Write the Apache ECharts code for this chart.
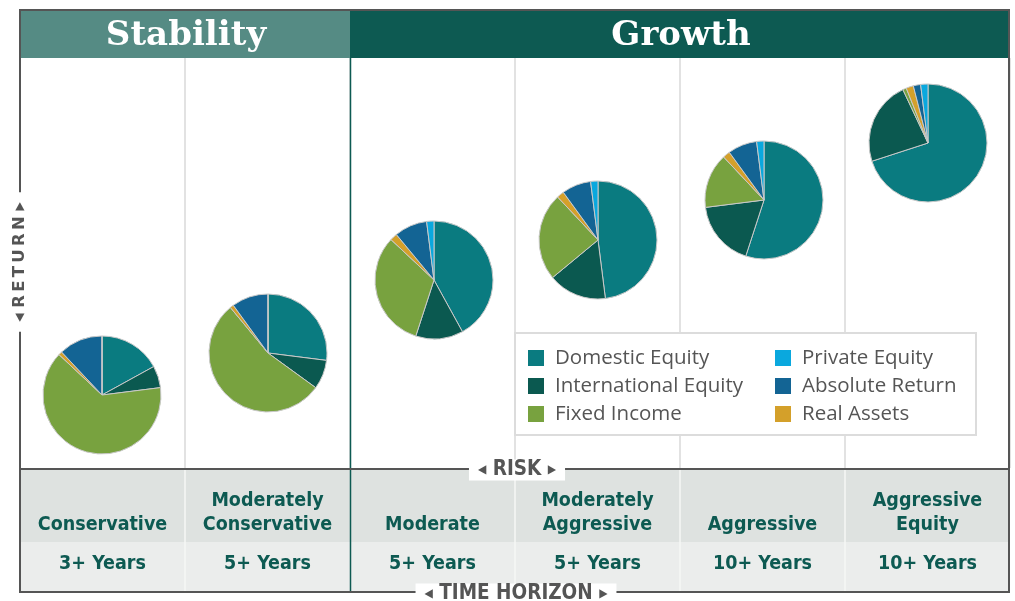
<!DOCTYPE html>
<html><head><meta charset="utf-8">
<script src="https://cdn.jsdelivr.net/npm/echarts@6/dist/echarts.min.js"></script>
<style>html,body{margin:0;padding:0;background:#fff}#c{width:1015px;height:601px}</style>
</head><body><div id="c"></div>
<script>
// ---- data ----
const profiles = ['Conservative','Moderately Conservative','Moderate','Moderately Aggressive','Aggressive','Aggressive Equity'];
const horizons = ['3+ Years','5+ Years','5+ Years','5+ Years','10+ Years','10+ Years'];
const groups = ['Stability','Growth'];
const assetClasses = ['Domestic Equity','International Equity','Fixed Income','Real Assets','Absolute Return','Private Equity'];
const domesticEquity      = [17, 27, 42, 48, 55, 70];
const internationalEquity = [ 6,  8, 13, 16, 18, 23];
const fixedIncome         = [64, 54, 32, 24, 15,  1];
const realAssets          = [ 1,  1,  2,  2,  2,  2];
const absoluteReturn      = [12, 10,  9,  8,  8,  2];
const privateEquity       = [ 0,  0,  2,  2,  2,  2];
const legendLeft  = ['Domestic Equity','International Equity','Fixed Income'];
const legendRight = ['Private Equity','Absolute Return','Real Assets'];

// ---- styles / layout ----
const values = [domesticEquity, internationalEquity, fixedIncome, realAssets, absoluteReturn, privateEquity];
const colors = {
  'Domestic Equity':'#0a7b80','International Equity':'#0b5950','Fixed Income':'#78a23f',
  'Real Assets':'#d4a02a','Absolute Return':'#136494','Private Equity':'#0aa8de'
};
const centers = [[102,395],[268,353],[434,280],[598,240],[764,200],[928,143]];
const condensed = '"DejaVu Sans Condensed","DejaVu Sans",sans-serif';
const teal = '#0d5a52';

const chart = echarts.init(document.getElementById('c'), null, {renderer:'canvas'});

const pieSeries = profiles.map((p, i) => ({
  type:'pie', name:p, center:centers[i], radius:59, startAngle:90, clockwise:true,
  silent:true, label:{show:false}, labelLine:{show:false}, emphasis:{disabled:true},
  itemStyle:{borderColor:'#c9c9c9', borderWidth:1}, z:3,
  data: assetClasses.map((a, k) => ({name:a, value:values[k][i], itemStyle:{color:colors[a]}}))
}));

const legendCommon = {
  orient:'vertical', top:347, itemWidth:16, itemHeight:16, itemGap:6, icon:'rect',
  padding:0, selectedMode:false, z:5, itemStyle:{borderWidth:0},
  textStyle:{fontFamily:'"Open Sans",sans-serif', fontSize:20.5, color:'#555', lineHeight:22, padding:[0,0,0,6]}
};

const arrowRich = {a:{fontSize:12, color:'#555', fontFamily:condensed}};
function labelText(x, y, text, rot, pad, font, size) {
  return {
    type:'text', x:x, y:y, rotation:rot || 0, z:12,
    style:{
      text:'{a|◀} ' + text + ' {a|▶}', fill:'#555', fontFamily:font, fontWeight:'bold', fontSize:size,
      align:'center', verticalAlign:'middle', backgroundColor:'#fff', padding:pad, rich:arrowRich
    }
  };
}

const graphic = [
  // header bands
  {type:'rect', z:1, shape:{x:20, y:10, width:330, height:48}, style:{fill:'#558b84'}},
  {type:'rect', z:1, shape:{x:350, y:10, width:659, height:48}, style:{fill:teal}},
  {type:'text', z:2, x:186, y:36, style:{text:groups[0], fill:'#fff', fontFamily:'"DejaVu Serif",serif', fontWeight:'bold', fontSize:34, align:'center', verticalAlign:'middle'}},
  {type:'text', z:2, x:681, y:36, style:{text:groups[1], fill:'#fff', fontFamily:'"DejaVu Serif",serif', fontWeight:'bold', fontSize:34, align:'center', verticalAlign:'middle'}},
  // bottom bands
  {type:'rect', z:-1, shape:{x:20, y:469, width:989, height:73}, style:{fill:'#dee2e0'}},
  {type:'rect', z:-1, shape:{x:20, y:542, width:989, height:50}, style:{fill:'#ebedec'}},
  // bottom separators
  ...[185, 515, 680, 845].map(x => ({type:'line', z:0, shape:{x1:x, y1:470, x2:x, y2:591}, style:{stroke:'#f6f7f6', lineWidth:1.5}})),
  // teal divider
  {type:'line', z:10, shape:{x1:350.5, y1:58, x2:350.5, y2:592}, style:{stroke:teal, lineWidth:1.5}},
  // risk line
  {type:'line', z:10, shape:{x1:20, y1:469, x2:1009, y2:469}, style:{stroke:'#555', lineWidth:2}},
  // frame
  {type:'rect', z:10, shape:{x:20, y:10, width:989, height:582}, style:{fill:'none', stroke:'#555', lineWidth:2}},
  // legend box
  {type:'rect', z:3, shape:{x:515, y:333, width:461, height:102}, style:{fill:'#fff', stroke:'#dcdcdc', lineWidth:2}},
  // axis titles
  labelText(517, 470, 'RISK', 0, [0,9], condensed, 20.5),
  labelText(516, 594, 'TIME HORIZON', 0, [0,9], condensed, 20.5),
  labelText(20, 262, 'R\u2009E\u2009T\u2009U\u2009R\u2009N', Math.PI/2, [2,10], '"DejaVu Sans",sans-serif', 16.5)
];

chart.setOption({
  animation:false,
  backgroundColor:'#fff',
  grid:{left:20, right:5, top:58, bottom:133},
  xAxis:[
    {type:'category', data:profiles, position:'bottom',
     axisLine:{show:false}, axisTick:{show:false},
     splitLine:{show:true, lineStyle:{color:'#d9d9d9', width:1.5}},
     axisLabel:{interval:0, margin:69, verticalAlign:'bottom', lineHeight:24,
       fontFamily:condensed, fontWeight:'bold', fontSize:19.5, color:teal,
       formatter:v => v.replace(' ', '\n')}},
    {type:'category', data:profiles, position:'bottom',
     axisLine:{show:false}, axisTick:{show:false}, splitLine:{show:false},
     axisLabel:{interval:0, margin:96, verticalAlign:'middle',
       fontFamily:condensed, fontWeight:'bold', fontSize:19.5, color:teal,
       formatter:(v, idx) => horizons[idx]}}
  ],
  yAxis:{type:'value', show:false},
  legend:[
    Object.assign({}, legendCommon, {left:528, data:legendLeft}),
    Object.assign({}, legendCommon, {left:775, data:legendRight})
  ],
  graphic:graphic,
  series:pieSeries
});
</script></body></html>
